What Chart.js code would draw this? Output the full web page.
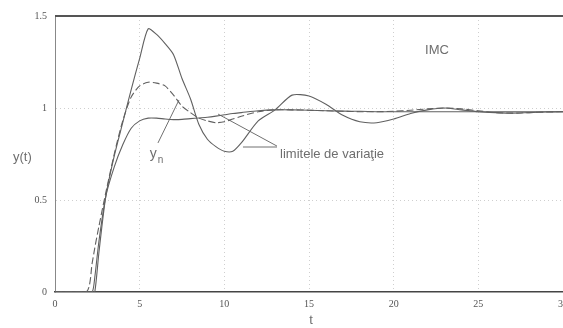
<!DOCTYPE html>
<html>
<head>
<meta charset="utf-8">
<script src="https://cdn.jsdelivr.net/npm/chart.js@4"></script>
<style>
  body { margin: 0; background: #fff; }
  #wrap { width: 563px; height: 328px; }
</style>
</head>
<body>
<div id="wrap"><canvas id="chart" width="563" height="328"></canvas></div>
<script>
// time axis (s)
const time = [0, 1.85, 2.2, 2.35, 2.6, 3, 3.5, 4, 4.5, 5,
  5.5, 6, 6.5, 7, 7.5, 8, 8.5, 9, 9.5, 10,
  10.5, 11, 12, 13, 14, 15, 16, 17, 18, 19,
  20, 21, 22, 23, 24, 25, 26, 27, 28, 29, 30];

// upper limit (large overshoot)
const limitHigh = [0, 0, 0, 0, 0.22, 0.52, 0.74, 0.92, 1.1, 1.27,
  1.43, 1.40, 1.35, 1.29, 1.16, 1.05, 0.91, 0.83, 0.79, 0.765,
  0.765, 0.81, 0.93, 0.99, 1.07, 1.065, 1.02, 0.96, 0.925, 0.92,
  0.94, 0.97, 0.99, 1.0, 0.99, 0.98, 0.975, 0.972, 0.975, 0.978, 0.98];

// second limit (dashed)
const limitLow = [0, 0, 0.16, 0.24, 0.36, 0.54, 0.75, 0.93, 1.06, 1.12,
  1.14, 1.135, 1.12, 1.07, 1.01, 0.975, 0.945, 0.93, 0.92, 0.925,
  0.94, 0.955, 0.98, 0.99, 0.99, 0.988, 0.985, 0.982, 0.98, 0.98,
  0.982, 0.988, 0.995, 1.0, 0.995, 0.985, 0.975, 0.972, 0.975, 0.978, 0.98];

// nominal response y_n
const yNominal = [0, 0, 0, 0.08, 0.28, 0.52, 0.68, 0.80, 0.89, 0.93,
  0.945, 0.945, 0.94, 0.937, 0.938, 0.942, 0.946, 0.95, 0.956, 0.963,
  0.97, 0.975, 0.985, 0.99, 0.99, 0.988, 0.985, 0.983, 0.982, 0.98,
  0.98, 0.98, 0.98, 0.98, 0.98, 0.98, 0.98, 0.98, 0.98, 0.98, 0.98];

const xTicks = [0, 5, 10, 15, 20, 25, 30];
const yTicks = [0, 0.5, 1, 1.5];

// leader lines for the annotations
const leaderYn = [{x: 6.08, y: 0.81}, {x: 7.32, y: 1.043}];
const leaderLimA = [{x: 13.11, y: 0.793}, {x: 9.63, y: 0.967}];
const leaderLimB = [{x: 13.11, y: 0.788}, {x: 11.1, y: 0.788}];

const pts = arr => time.map((t, i) => ({x: t, y: arr[i]}));

const textPlugin = {
  id: 'texts',
  afterDraw(chart) {
    const ctx = chart.ctx;
    const a = chart.chartArea;
    const sx = chart.scales.x, sy = chart.scales.y;
    ctx.save();
    // top frame line
    ctx.strokeStyle = '#555';
    ctx.lineWidth = 2;
    ctx.beginPath();
    ctx.moveTo(a.left, a.top);
    ctx.lineTo(a.right, a.top);
    ctx.stroke();

    ctx.fillStyle = '#6e6e6e';
    ctx.textBaseline = 'middle';
    ctx.font = '13px "Liberation Sans", Arial, sans-serif';
    ctx.textAlign = 'center';
    ctx.fillText('IMC', sx.getPixelForValue(22.56), sy.getPixelForValue(1.315));
    ctx.textAlign = 'left';
    ctx.fillText('limitele de variaţie', sx.getPixelForValue(13.29), sy.getPixelForValue(0.745));
    ctx.fillText('y(t)', 13, (a.top + a.bottom) / 2 + 3);
    ctx.textAlign = 'center';
    ctx.fillText('t', (a.left + a.right) / 2 + 2, 320);
    // y_n
    ctx.textAlign = 'left';
    ctx.textBaseline = 'alphabetic';
    ctx.font = '14px "Liberation Sans", Arial, sans-serif';
    const px = sx.getPixelForValue(5.6), py = sy.getPixelForValue(0.73);
    ctx.fillText('y', px, py);
    ctx.font = '10px "Liberation Sans", Arial, sans-serif';
    ctx.fillText('n', px + 8, py + 5);
    ctx.restore();
  }
};

const curve = (data, dash) => ({
  data: data,
  borderColor: '#606060',
  borderWidth: 1.1,
  borderDash: dash || [],
  pointRadius: 0,
  tension: 0.25,
  fill: false
});

const leader = data => ({
  data: data,
  borderColor: '#707070',
  borderWidth: 1,
  pointRadius: 0,
  tension: 0,
  fill: false
});

const innerGrid = (lo, hi) => c =>
  (c.tick && c.tick.value > lo && c.tick.value < hi) ? '#cfcfcf' : 'rgba(0,0,0,0)';

new Chart(document.getElementById('chart'), {
  type: 'line',
  data: {
    datasets: [
      curve(pts(limitHigh)),
      curve(pts(limitLow), [7, 3]),
      curve(pts(yNominal)),
      leader(leaderYn),
      leader(leaderLimA),
      leader(leaderLimB)
    ]
  },
  options: {
    responsive: false,
    animation: false,
    layout: { padding: { left: 0, top: 16, right: 0, bottom: 0 } },
    plugins: { legend: { display: false }, tooltip: { enabled: false } },
    scales: {
      x: {
        type: 'linear',
        min: 0, max: 30,
        afterBuildTicks: s => { s.ticks = xTicks.map(v => ({value: v})); },
        afterFit: s => { s.height = 36; s.paddingLeft = 0; s.paddingRight = 0; },
        ticks: {
          padding: 6,
          color: '#555',
          font: { family: '"Liberation Serif", serif', size: 10 },
          maxRotation: 0,
          callback: v => String(v)
        },
        grid: { drawTicks: false, color: innerGrid(0, 30) },
        border: { color: '#444', width: 1.5, dash: [1, 3] }
      },
      y: {
        min: 0, max: 1.5,
        afterBuildTicks: s => { s.ticks = yTicks.map(v => ({value: v})); },
        afterFit: s => { s.width = 55; s.paddingTop = 0; s.paddingBottom = 0; },
        ticks: {
          padding: 8,
          color: '#555',
          font: { family: '"Liberation Serif", serif', size: 10 },
          callback: v => String(v)
        },
        grid: { drawTicks: false, color: innerGrid(0, 1.5) },
        border: { color: '#888', width: 1, dash: [1, 3] }
      }
    }
  },
  plugins: [textPlugin]
});
</script>
</body>
</html>
